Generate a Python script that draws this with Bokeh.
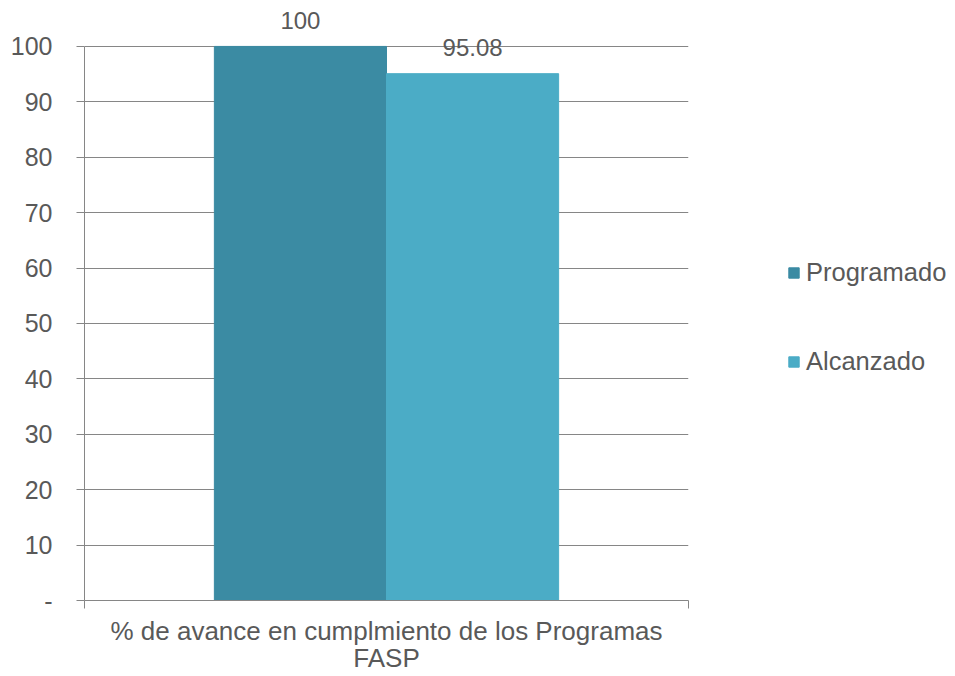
from bokeh.plotting import figure
from bokeh.layouts import row
from bokeh.models import Range1d, FixedTicker, LinearAxis, Legend, LegendItem, ColumnDataSource, LabelSet
from bokeh.core.properties import value
from bokeh.embed import file_html
from bokeh.resources import INLINE

series = ["Programado", "Alcanzado"]
values = [100, 95.08]
labels = ["100", "95.08"]
colors = ["#3B8BA3", "#4BACC6"]
category = "% de avance en cumplmiento de los Programas\nFASP"
y_ticks = [0, 10, 20, 30, 40, 50, 60, 70, 80, 90, 100]

FONT = "Liberation Sans"
TXT = "#595959"
GRID = "#868686"
H = 676
FRAME_BOTTOM = 601
PX_PER_UNIT = 5.55

bar_w = 0.285
xs = [0.5 - bar_w / 2, 0.5 + bar_w / 2]

p = figure(width=690, height=H, output_backend="svg", toolbar_location=None,
           x_range=Range1d(0, 1), y_range=Range1d(0, FRAME_BOTTOM / PX_PER_UNIT),
           min_border_left=84, min_border_right=2, min_border_top=0, min_border_bottom=H - FRAME_BOTTOM,
           x_axis_location=None, y_axis_location=None)
p.outline_line_color = None

yax = LinearAxis(ticker=FixedTicker(ticks=y_ticks), bounds=(0, 100))
yax.major_label_overrides = {0: "-"}
yax.major_tick_out = 8
yax.major_tick_in = 0
yax.minor_tick_line_color = None
yax.axis_line_color = GRID
yax.major_tick_line_color = GRID
yax.major_label_text_font = FONT
yax.major_label_text_font_size = "25px"
yax.major_label_text_color = TXT
yax.major_label_standoff = 24
p.add_layout(yax, "left")

xax = LinearAxis(ticker=FixedTicker(ticks=[0, 1]))
xax.major_label_overrides = {0: "", 1: ""}
xax.major_label_text_font_size = "1px"
xax.major_label_standoff = 0
xax.major_tick_out = 8
xax.major_tick_in = 0
xax.minor_tick_line_color = None
xax.axis_line_color = GRID
xax.major_tick_line_color = GRID
xax.axis_label = category
xax.axis_label_text_font = FONT
xax.axis_label_text_font_size = "26px"
xax.axis_label_text_font_style = "normal"
xax.axis_label_text_color = TXT
xax.axis_label_standoff = 7
xax.axis_label_text_line_height = 0.93
p.add_layout(xax, "below")

p.xgrid.visible = False
p.ygrid.ticker = FixedTicker(ticks=y_ticks)
p.ygrid.grid_line_color = GRID
p.ygrid.grid_line_width = 1

src = ColumnDataSource(dict(x=xs, top=values, color=colors, label=labels, name=series))
p.vbar(x="x", top="top", width=bar_w, bottom=0, color="color", source=src)

ls = LabelSet(x="x", y="top", text="label", source=src, text_font=value(FONT), text_font_size="24px",
              text_color=TXT, text_align="center", text_baseline="middle", y_offset=26)
p.add_layout(ls)

# legend panel
p2 = figure(width=260, height=H, output_backend="svg", toolbar_location=None,
            x_range=Range1d(0, 1), y_range=Range1d(0, 1),
            min_border_left=0, min_border_right=0, min_border_top=0, min_border_bottom=0,
            x_axis_location=None, y_axis_location=None)
p2.outline_line_color = None
p2.grid.visible = False
items = []
for i, s in enumerate(series):
    # hidden swatch renderer (kept outside the visible range)
    rr = p2.rect(x=[0.5], y=[-5], width=0.1, height=0.1, color=colors[i])
    items.append(LegendItem(label=s, renderers=[rr]))
legend = Legend(items=items, location=(97, 224))
legend.border_line_color = None
legend.background_fill_alpha = 0
legend.padding = 0
legend.margin = 0
legend.label_text_font = FONT
legend.label_text_font_size = "25.5px"
legend.label_text_color = TXT
legend.glyph_width = 13
legend.glyph_height = 13
legend.label_height = 24
legend.spacing = 60
legend.label_standoff = 6
p2.add_layout(legend, "center")

layout = row(p, p2, spacing=0)
open("out.html", "w").write(file_html(layout, INLINE))
